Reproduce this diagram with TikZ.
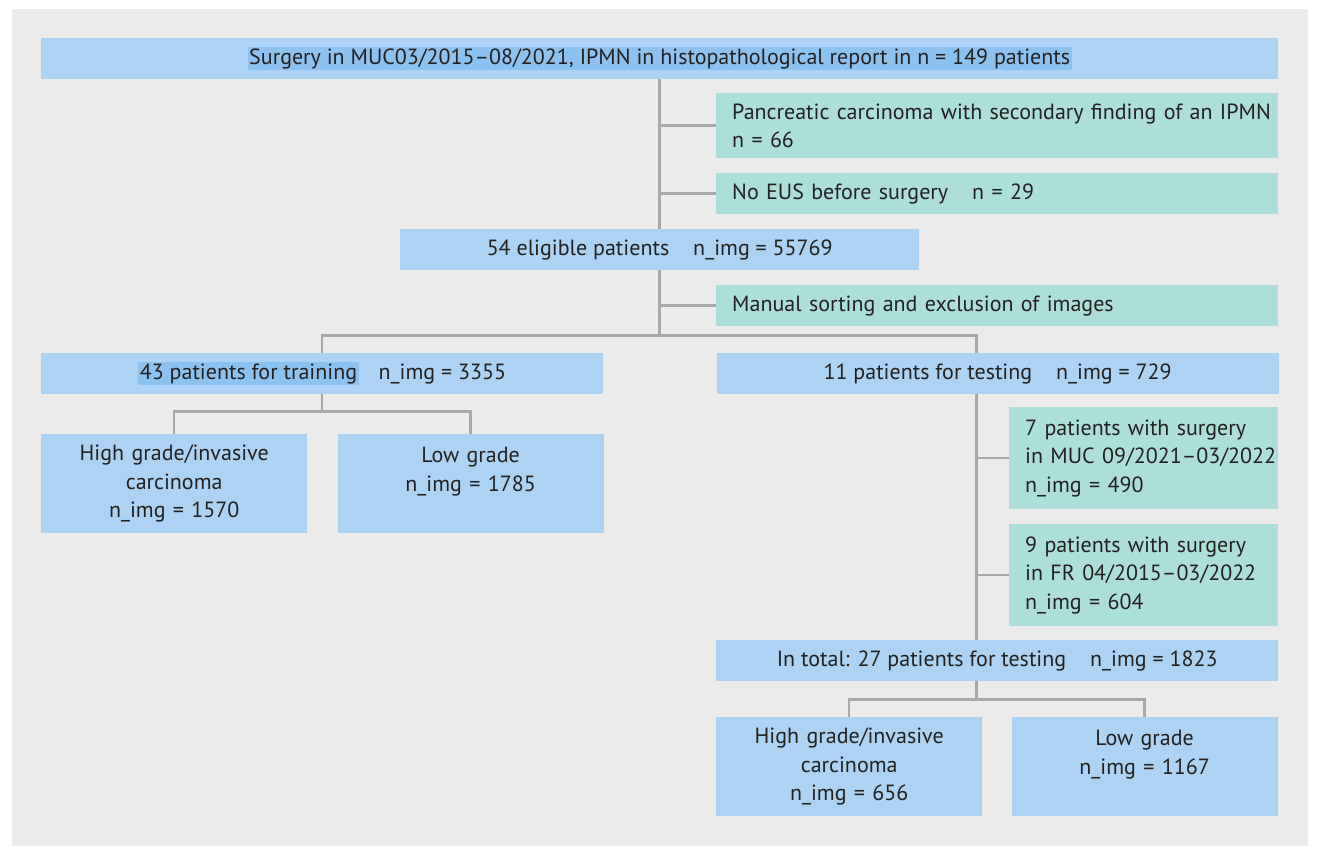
\documentclass[tikz,border=0pt]{standalone}
\usepackage{fontspec}
\setmainfont{PT Sans}
\usepackage{tikz}
\usetikzlibrary{calc,positioning}

\definecolor{panelgrey}{HTML}{EBEBEB}
\definecolor{boxblue}{HTML}{ACD3F3}
\definecolor{boxteal}{HTML}{ACDEDA}
\definecolor{hilite}{HTML}{8EC2EE}
\definecolor{linkgrey}{HTML}{A8A8A8}
\definecolor{ink}{HTML}{222222}
\setlength{\fboxsep}{1.5pt}

\begin{document}
\begin{tikzpicture}[x=1pt, y=-1pt,
		box/.style={fill=boxblue, text=ink, inner sep=0pt, anchor=north west, minimum height=41pt, minimum width=562pt, font=\fontsize{22}{28.5}\selectfont},
		excl/.style={box, fill=boxteal, align=left, inner xsep=16pt, minimum width=0pt},
		grade/.style={box, align=center, inner xsep=8pt, text width=250pt, minimum width=0pt, minimum height=99pt},
		link/.style={draw=linkgrey, line width=2.5pt},
		node distance=113pt]
			\useasboundingbox (0,0) rectangle (1318,855);
			\fill[panelgrey] (12,9) rectangle (1308,846);
			% flow boxes
			\node[box, minimum width=1237pt] (top) at (41,38) {\colorbox{hilite}{Surgery in MUC03/2015–08/2021, IPMN in histopathological report in n = 149 patients}};
			\node[excl, text width=530pt, minimum height=65pt] (pc) at (716,93) {\mbox{Pancreatic carcinoma with secondary finding of an IPMN}\\n = 66};
			\node[excl, text width=530pt] (noeus) at (716,173) {No EUS before surgery\hspace{24pt}n = 29};
			\node[box, minimum width=519pt] (elig) at (400,229) {54 eligible patients\hspace{24pt}n\_img = 55769};
			\node[excl, text width=530pt] (manual) at (716,285) {Manual sorting and exclusion of images};
			\node[box] (train) at (41,353) {\colorbox{hilite}{43 patients for training}\hspace{20pt}n\_img = 3355};
			\node[box, right=of train] (test) {11 patients for testing\hspace{24pt}n\_img = 729};
			\node[grade] (hg1) at (41,434) {High grade/invasive\\carcinoma\\n\_img = 1570};
			\node[grade, right=30pt of hg1] (lg1) {Low grade\\n\_img = 1785\\\mbox{}};
			\node[excl, text width=237pt, minimum height=102pt] (muc) at (1009,407) {7 patients with surgery\\\mbox{in MUC 09/2021–03/2022}\\n\_img = 490};
			\node[excl, text width=237pt, minimum height=102pt] (fr) at (1009,524) {9 patients with surgery\\\mbox{in FR 04/2015–03/2022}\\n\_img = 604};
			\node[box] (total) at (716,640) {In total: 27 patients for testing\hspace{24pt}n\_img = 1823};
			\node[grade] (hg2) at (716,717) {High grade/invasive\\carcinoma\\n\_img = 656};
			\node[grade, right=29pt of hg2] (lg2) {Low grade\\n\_img = 1167\\\mbox{}};
			% junctions
			\coordinate (fork1) at ($(elig.south)+(0,65)$);
			\coordinate (tcol) at ($(test.north west)+(260,0)$);
			\coordinate (fork2) at ($(train.south)+(0,17)$);
			\coordinate (fork3) at ($(tcol |- total.south)+(0,18)$);
			% connectors
			\draw[link] (top) -- (elig);
			\draw[link] (pc.west) -- (pc.west -| top.south);
			\draw[link] (noeus.west) -- (noeus.west -| top.south);
			\draw[link] (elig) -- (fork1);
			\draw[link] (manual.west) -- (manual.west -| fork1);
			\draw[link] (train.north) |- (fork1) -| (tcol);
			\draw[link] (train) -- (fork2);
			\draw[link] (hg1.north) |- (fork2) -| (lg1.north);
			\draw[link] (tcol |- test.south) -- (tcol |- total.north);
			\draw[link] (muc.west) -- (muc.west -| tcol);
			\draw[link] (fr.west) -- (fr.west -| tcol);
			\draw[link] (tcol |- total.south) -- (fork3);
			\draw[link] (hg2.north) |- (fork3) -| (lg2.north);
		\end{tikzpicture}
\end{document}
